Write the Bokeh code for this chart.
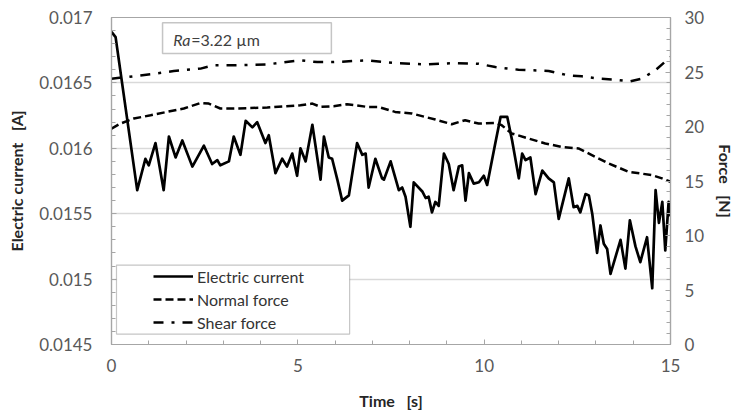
from bokeh.plotting import figure
from bokeh.models import (Range1d, LinearAxis, SingleIntervalTicker, CustomJSTickFormatter,
                          BoxAnnotation, Label)
from bokeh.embed import file_html
from bokeh.resources import INLINE

# ---------------- data ----------------
time_current = [0.00, 0.11, 0.69, 0.91, 1.00, 1.18, 1.40, 1.54, 1.72, 1.90, 2.17, 2.48, 2.70, 2.84,
                2.92, 3.15, 3.28, 3.46, 3.60, 3.78, 3.91, 4.13, 4.22, 4.40, 4.58, 4.71, 4.85, 4.98,
                5.07, 5.21, 5.39, 5.61, 5.70, 5.83, 5.92, 6.06, 6.19, 6.37, 6.59, 6.73, 6.82, 6.90,
                7.08, 7.26, 7.31, 7.49, 7.71, 7.80, 7.89, 8.02, 8.11, 8.34, 8.43, 8.51, 8.60, 8.69,
                8.78, 8.92, 9.05, 9.18, 9.32, 9.41, 9.50, 9.59, 9.72, 9.86, 9.99, 10.08, 10.30,
                10.44, 10.62, 10.75, 10.93, 11.02, 11.11, 11.24, 11.38, 11.56, 11.73, 11.87, 12.00,
                12.27, 12.40, 12.50, 12.58, 12.72, 12.81, 12.90, 13.03, 13.12, 13.21, 13.30, 13.39,
                13.66, 13.79, 13.91, 14.06, 14.19, 14.37, 14.51, 14.60, 14.69, 14.78, 14.86, 14.95,
                15.00]
electric_current = [0.01689, 0.01685, 0.01568, 0.01592, 0.01587, 0.01604, 0.01568, 0.01609, 0.01593,
                    0.01606, 0.01586, 0.01602, 0.01588, 0.01591, 0.01587, 0.01590, 0.01609, 0.01595,
                    0.01621, 0.01616, 0.01620, 0.01604, 0.01610, 0.01581, 0.01592, 0.01586, 0.01596,
                    0.01579, 0.01600, 0.01590, 0.01618, 0.01576, 0.01609, 0.01593, 0.01592, 0.01576,
                    0.01560, 0.01564, 0.01604, 0.01595, 0.01596, 0.01570, 0.01592, 0.01577, 0.01576,
                    0.01590, 0.01568, 0.01570, 0.01563, 0.01540, 0.01574, 0.01567, 0.01562, 0.01563,
                    0.01551, 0.01559, 0.01556, 0.01596, 0.01588, 0.01568, 0.01586, 0.01587, 0.01560,
                    0.01581, 0.01573, 0.01574, 0.01579, 0.01572, 0.01604, 0.01624, 0.01624, 0.01606,
                    0.01577, 0.01596, 0.01591, 0.01593, 0.01565, 0.01583, 0.01577, 0.01574, 0.01546,
                    0.01577, 0.01555, 0.01556, 0.01551, 0.01565, 0.01564, 0.01550, 0.01520, 0.01541,
                    0.01527, 0.01523, 0.01504, 0.01530, 0.01508, 0.01545, 0.01525, 0.01513, 0.01532,
                    0.01493, 0.01568, 0.01543, 0.01559, 0.01522, 0.01559, 0.01548]

time_normal = [0.00, 0.24, 0.60, 1.05, 1.49, 1.94, 2.39, 2.61, 2.92, 3.28, 4.18, 5.07, 5.39, 5.61,
               5.96, 6.32, 6.86, 7.16, 7.61, 8.06, 8.69, 9.13, 9.49, 9.85, 10.30, 10.47, 10.74,
               11.19, 11.64, 12.08, 12.53, 12.80, 13.34, 13.87, 14.50, 14.77, 15.00]
normal_force = [19.8, 20.27, 20.73, 21.03, 21.34, 21.65, 22.16, 22.10, 21.65, 21.65, 21.74, 21.95,
                22.10, 21.80, 21.86, 22.04, 21.80, 21.80, 21.34, 21.19, 20.64, 20.21, 20.58, 20.27,
                20.33, 20.12, 19.36, 18.90, 18.44, 18.13, 17.99, 17.53, 16.61, 15.85, 15.54, 15.24,
                14.93]

time_shear = [0.00, 0.42, 1.05, 1.67, 2.39, 2.74, 3.28, 4.18, 5.07, 5.52, 5.96, 6.86, 7.61, 8.42,
              9.22, 9.85, 10.30, 10.92, 11.73, 12.26, 12.62, 13.07, 13.51, 13.92, 14.23, 14.59,
              14.90, 15.00]
shear_force = [24.39, 24.54, 24.79, 25.09, 25.31, 25.61, 25.61, 25.70, 26.07, 25.91, 25.91, 26.07,
               25.82, 25.70, 25.82, 25.76, 25.45, 25.21, 25.09, 24.69, 24.60, 24.39, 24.30, 24.14,
               24.39, 25.15, 26.07, 26.37]

series_labels = ["Electric current", "Normal force", "Shear force"]
x_label = "Time\u00a0\u00a0 [s]"
y_label_left = "Electric current\u00a0\u00a0 [A]"
y_label_right = "Force\u00a0\u00a0 [N]"
note_italic = "Ra"
note_rest = "=3.22 \u00b5m"

# ---------------- figure ----------------
FONT = "Lato"
TICK_COLOR = "#595959"
AXIS_COLOR = "#a6a6a6"

p = figure(width=738, height=414, output_backend="svg", toolbar_location=None,
           x_range=Range1d(0, 15), y_range=Range1d(0.0145, 0.017),
           min_border_left=111, min_border_right=68, min_border_top=17, min_border_bottom=70)
p.extra_y_ranges = {"force": Range1d(0, 30)}

p.outline_line_color = AXIS_COLOR
p.outline_line_width = 1.2
p.background_fill_color = "white"
p.border_fill_color = "white"

p.xgrid.visible = False
p.ygrid.grid_line_color = "#d9d9d9"
p.ygrid.grid_line_width = 1.5
p.ygrid.ticker = SingleIntervalTicker(interval=0.0005, num_minor_ticks=5)

fmt = CustomJSTickFormatter(code="return parseFloat(tick.toPrecision(6)).toString();")

def style_axis(ax):
    ax.axis_line_color = AXIS_COLOR
    ax.axis_line_width = 1.2
    ax.major_tick_line_color = AXIS_COLOR
    ax.minor_tick_line_color = AXIS_COLOR
    ax.major_tick_in = 5
    ax.major_tick_out = 0
    ax.minor_tick_in = 4
    ax.minor_tick_out = 0
    ax.major_label_text_font = FONT
    ax.major_label_text_font_size = "17px"
    ax.major_label_text_color = TICK_COLOR
    ax.axis_label_text_font = FONT
    ax.axis_label_text_font_size = "16px"
    ax.axis_label_text_font_style = "bold"
    ax.axis_label_text_color = "#262626"

xa = p.xaxis[0]
xa.ticker = SingleIntervalTicker(interval=5, num_minor_ticks=5)
xa.axis_label = x_label
style_axis(xa)
xa.major_label_standoff = 14
xa.axis_label_standoff = 16

ya = p.yaxis[0]
ya.ticker = SingleIntervalTicker(interval=0.0005, num_minor_ticks=5)
ya.formatter = fmt
ya.axis_label = y_label_left
style_axis(ya)
ya.major_label_standoff = 19
ya.axis_label_standoff = 10

ra = LinearAxis(y_range_name="force", ticker=SingleIntervalTicker(interval=5, num_minor_ticks=5),
                axis_label=y_label_right)
style_axis(ra)
ra.major_label_standoff = 14
ra.axis_label_standoff = 9
p.add_layout(ra, "right")

# boxes drawn before the lines so the legend sits above them
legend_box = BoxAnnotation(left=0.134, right=6.39, bottom=0.01458, top=0.015107,
                           fill_color="white", fill_alpha=1.0,
                           line_color="#404040", line_width=1.2)
p.add_layout(legend_box)
note_box = BoxAnnotation(left=1.37, right=5.90, bottom=0.016725, top=0.01696,
                         fill_color="white", fill_alpha=1.0,
                         line_color="#404040", line_width=1.5)
p.add_layout(note_box)
p.add_layout(Label(x=1.66, y=0.016835, text=note_italic, text_font=FONT, text_font_size="16px",
                   text_font_style="italic", text_color="#404040", text_baseline="middle"))
p.add_layout(Label(x=2.14, y=0.016835, text=note_rest, text_font=FONT, text_font_size="16px",
                   text_color="#404040", text_baseline="middle"))

p.line(time_current, electric_current, line_color="black", line_width=2.7,
       line_join="round", legend_label=series_labels[0])
p.line(time_normal, normal_force, y_range_name="force", line_color="black", line_width=2.5,
       line_dash="8 4", legend_label=series_labels[1])
p.line(time_shear, shear_force, y_range_name="force", line_color="black", line_width=2.5,
       line_dash="10 8 3 8", legend_label=series_labels[2])

lg = p.legend[0]
lg.location = (40, 10)
lg.border_line_alpha = 0
lg.background_fill_alpha = 0
lg.glyph_width = 40
lg.glyph_height = 20
lg.label_standoff = 4
lg.spacing = 3
lg.padding = 2
lg.margin = 0
lg.label_text_font = FONT
lg.label_text_font_size = "16px"
lg.label_text_color = "#333333"

open("out.html", "w").write(file_html(p, INLINE))
